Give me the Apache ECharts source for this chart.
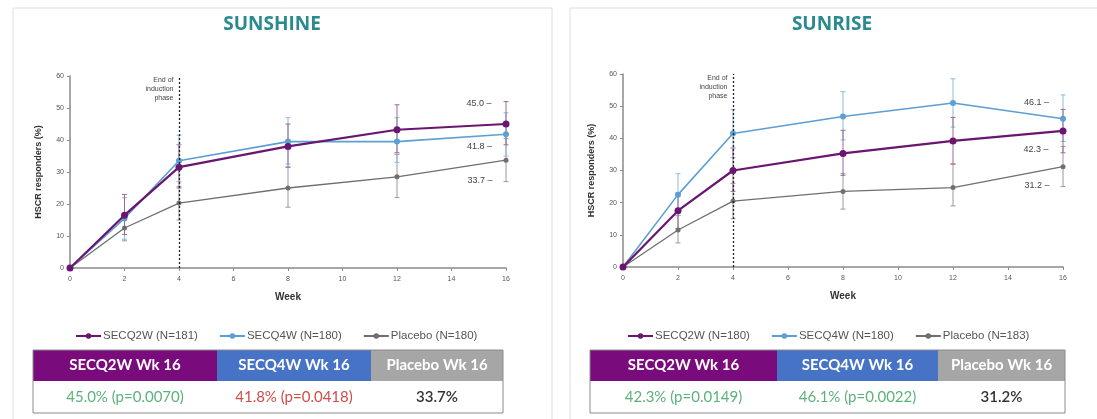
<!DOCTYPE html>
<html><head><meta charset="utf-8">
<script src="https://cdn.jsdelivr.net/npm/echarts@6/dist/echarts.min.js"></script>
<style>html,body{margin:0;padding:0;background:#fff}#c{width:1097px;height:419px}</style>
</head><body><div id="c"></div>
<script>
// ---------- data ----------
const weeks = [0, 2, 4, 8, 12, 16];
const titles = ['SUNSHINE', 'SUNRISE'];
const yTicks = [0, 60, 10];      // min, max, interval
const xTicks = [0, 16, 2];

// SUNSHINE
const shQ2W   = [0, 16.5, 31.5, 38.0, 43.2, 45.0];
const shQ2WLo = [null, 10.5, 25.0, 31.5, 36.0, 38.5];
const shQ2WHi = [null, 23.0, 38.5, 45.0, 51.0, 52.0];
const shQ4W   = [0, 15.5, 33.5, 39.5, 39.5, 41.8];
const shQ4WLo = [null, 9.0, 27.0, 32.5, 33.0, 35.0];
const shQ4WHi = [null, 22.0, 41.5, 47.0, 47.0, 48.5];
const shPbo   = [0, 12.5, 20.3, 25.0, 28.5, 33.7];
const shPboLo = [null, 8.5, 15.0, 19.0, 22.0, 27.0];
const shPboHi = [null, 16.5, 25.5, 31.5, 35.5, 40.5];

// SUNRISE
const srQ2W   = [0, 17.5, 30.0, 35.3, 39.2, 42.3];
const srQ2WLo = [null, 12.0, 23.5, 28.5, 32.0, 35.5];
const srQ2WHi = [null, 23.0, 37.0, 42.5, 46.5, 49.0];
const srQ4W   = [0, 22.5, 41.5, 46.8, 51.0, 46.1];
const srQ4WLo = [null, 16.0, 34.0, 39.5, 43.5, 39.0];
const srQ4WHi = [null, 29.0, 49.0, 54.5, 58.5, 53.5];
const srPbo   = [0, 11.5, 20.5, 23.5, 24.7, 31.2];
const srPboLo = [null, 7.5, 15.0, 18.0, 19.0, 25.0];
const srPboHi = [null, 16.0, 26.0, 29.0, 32.0, 37.5];

const shLegend = ['SECQ2W (N=181)', 'SECQ4W (N=180)', 'Placebo (N=180)'];
const srLegend = ['SECQ2W (N=180)', 'SECQ4W (N=180)', 'Placebo (N=183)'];

const tableHeaders = ['SECQ2W Wk 16', 'SECQ4W Wk 16', 'Placebo Wk 16'];
const shTableValues = ['45.0% (p=0.0070)', '41.8% (p=0.0418)', '33.7%'];
const srTableValues = ['42.3% (p=0.0149)', '46.1% (p=0.0022)', '31.2%'];
const inductionText = 'End of\ninduction\nphase';

// ---------- styles ----------
const colQ2W = '#6a1670', colQ4W = '#5c9fd4', colPbo = '#6f6f6f';
const barQ2W = '#9a6a9c', barQ4W = '#8dbbe0', barPbo = '#9a9a9a';
const hdrColors = ['#7a0b7c', '#4673c6', '#a6a6a6'];
const valColors = [['#5cb27a', '#cf4d4a', '#333333'], ['#5cb27a', '#5cb27a', '#333333']];

const chart = echarts.init(document.getElementById('c'), null, {renderer: 'canvas'});

const grids = [
  {left: 70, top: 76, width: 436, height: 192},
  {left: 623, top: 74, width: 440, height: 193}
];

function xAxis(gi) {
  return {
    type: 'value', gridIndex: gi, min: xTicks[0], max: xTicks[1], interval: xTicks[2],
    name: 'Week', nameLocation: 'middle', nameGap: 24,
    nameTextStyle: {fontFamily: 'Liberation Sans', fontWeight: 'bold', fontSize: 10, color: '#333'},
    axisLine: {lineStyle: {color: '#8a8a8a', width: 1.5}},
    axisTick: {show: true, length: 3, lineStyle: {color: '#8a8a8a'}},
    axisLabel: {fontSize: 7, color: '#555', margin: 8, fontFamily: 'Liberation Sans'},
    splitLine: {show: false}
  };
}
function yAxis(gi) {
  return {
    type: 'value', gridIndex: gi, min: yTicks[0], max: yTicks[1], interval: yTicks[2],
    name: 'HSCR responders (%)', nameLocation: 'middle', nameGap: 27,
    nameTextStyle: {fontFamily: 'Liberation Sans', fontWeight: 'bold', fontSize: 9, color: '#333'},
    axisLine: {show: true, lineStyle: {color: '#8a8a8a', width: 1.5}},
    axisTick: {show: true, length: 3, lineStyle: {color: '#8a8a8a'}},
    axisLabel: {fontSize: 7, color: '#555', margin: 6, fontFamily: 'Liberation Sans'},
    splitLine: {show: false}
  };
}

function lineSeries(id, gi, vals, color, width, symSize, labelOffset, z) {
  const last = vals.length - 1;
  return {
    type: 'line', name: id, xAxisIndex: gi, yAxisIndex: gi, z: z,
    data: vals.map((v, i) => i === last ? {
      value: [weeks[i], v],
      label: {show: true, position: 'left', offset: labelOffset, formatter: v.toFixed(1) + ' –',
        fontSize: 9, color: '#444', fontFamily: 'Liberation Sans'}
    } : [weeks[i], v]),
    symbol: 'circle', symbolSize: symSize, showSymbol: true,
    itemStyle: {color: color}, lineStyle: {color: color, width: width},
    emphasis: {disabled: true}, animation: false
  };
}

function errSeries(gi, lo, hi, color) {
  const data = [];
  weeks.forEach((w, i) => { if (lo[i] != null) data.push([w, lo[i], hi[i]]); });
  return {
    type: 'custom', xAxisIndex: gi, yAxisIndex: gi, z: 1, silent: true,
    data: data, encode: {x: 0, y: [1, 2]},
    renderItem: function (params, api) {
      const p1 = api.coord([api.value(0), api.value(1)]);
      const p2 = api.coord([api.value(0), api.value(2)]);
      const c = 2.5;
      const st = {stroke: color, lineWidth: 1};
      return {type: 'group', children: [
        {type: 'line', shape: {x1: p1[0], y1: p1[1], x2: p2[0], y2: p2[1]}, style: st},
        {type: 'line', shape: {x1: p1[0] - c, y1: p1[1], x2: p1[0] + c, y2: p1[1]}, style: st},
        {type: 'line', shape: {x1: p2[0] - c, y1: p2[1], x2: p2[0] + c, y2: p2[1]}, style: st}
      ]};
    },
    animation: false
  };
}

function markSeries(gi) {
  return {
    type: 'line', xAxisIndex: gi, yAxisIndex: gi, data: [], silent: true,
    markLine: {
      symbol: 'none', silent: true, animation: false,
      lineStyle: {color: '#222', type: [2, 2], width: 1.3},
      label: {show: false},
      data: [{xAxis: 4}]
    },
    markPoint: {
      symbol: 'circle', symbolSize: 1, itemStyle: {color: 'rgba(0,0,0,0)'}, animation: false,
      label: {show: true, formatter: inductionText, position: [-5, 0], align: 'right', verticalAlign: 'top',
        fontSize: 7, lineHeight: 9, color: '#444', fontFamily: 'Liberation Sans'},
      data: [{coord: [4, 60]}]
    }
  };
}

const labelMap = {
  sh_q2w: shLegend[0], sh_q4w: shLegend[1], sh_pbo: shLegend[2],
  sr_q2w: srLegend[0], sr_q4w: srLegend[1], sr_pbo: srLegend[2]
};

function legend(names, left) {
  return {
    data: names, left: left, top: 325, itemWidth: 25, itemHeight: 7, itemGap: 21,
    formatter: n => labelMap[n], selectedMode: false,
    textStyle: {fontSize: 11.5, color: '#555', fontFamily: 'Liberation Sans', padding: [0, 0, 0, -3]}
  };
}

function table(x0, colEdges, y0, values, vc) {
  const els = [];
  const hH = 31, dH = 32;
  for (let i = 0; i < 3; i++) {
    const x = colEdges[i], w = colEdges[i + 1] - colEdges[i];
    els.push({type: 'rect', shape: {x: x, y: y0, width: w, height: hH}, style: {fill: hdrColors[i]}, silent: true});
    els.push({type: 'text', x: x + w / 2, y: y0 + hH / 2, style: {text: tableHeaders[i], fill: '#fff',
      font: 'bold 15px Lato, "Noto Sans", sans-serif', align: 'center', verticalAlign: 'middle'}, silent: true});
    els.push({type: 'text', x: x + w / 2, y: y0 + hH + dH / 2, style: {text: values[i], fill: vc[i],
      font: (i === 2 ? '600 ' : '') + '15px Lato, "Noto Sans", sans-serif', align: 'center', verticalAlign: 'middle'}, silent: true});
  }
  els.push({type: 'rect', shape: {x: colEdges[0], y: y0, width: colEdges[3] - colEdges[0], height: hH + dH},
    style: {fill: 'none', stroke: '#8c8c8c', lineWidth: 1}, silent: true});
  return els;
}

const option = {
  backgroundColor: '#fff',
  animation: false,
  title: [
    {text: titles[0], left: 267, top: 10, textAlign: 'center',
      textStyle: {fontSize: 19, fontWeight: 'bold', color: '#2a8a8e', fontFamily: 'Open Sans'}},
    {text: titles[1], left: 827, top: 10, textAlign: 'center',
      textStyle: {fontSize: 19, fontWeight: 'bold', color: '#2a8a8e', fontFamily: 'Open Sans'}}
  ],
  grid: grids,
  xAxis: [xAxis(0), xAxis(1)],
  yAxis: [yAxis(0), yAxis(1)],
  legend: [
    legend(['sh_q2w', 'sh_q4w', 'sh_pbo'], 70),
    legend(['sr_q2w', 'sr_q4w', 'sr_pbo'], 622)
  ],
  series: [
    markSeries(0), markSeries(1),
    errSeries(0, shPboLo, shPboHi, barPbo),
    errSeries(0, shQ4WLo, shQ4WHi, barQ4W),
    errSeries(0, shQ2WLo, shQ2WHi, barQ2W),
    errSeries(1, srPboLo, srPboHi, barPbo),
    errSeries(1, srQ4WLo, srQ4WHi, barQ4W),
    errSeries(1, srQ2WLo, srQ2WHi, barQ2W),
    lineSeries('sh_pbo', 0, shPbo, colPbo, 1.3, 5, [-6, 20], 3),
    lineSeries('sh_q4w', 0, shQ4W, colQ4W, 1.6, 6, [-6, 12], 4),
    lineSeries('sh_q2w', 0, shQ2W, colQ2W, 2.2, 7, [-6, -20], 5),
    lineSeries('sr_pbo', 1, srPbo, colPbo, 1.3, 5, [-6, 19], 3),
    lineSeries('sr_q4w', 1, srQ4W, colQ4W, 1.6, 6, [-6, -16], 4),
    lineSeries('sr_q2w', 1, srQ2W, colQ2W, 2.2, 7, [-6, 19], 5)
  ],
  graphic: [
    {type: 'rect', shape: {x: 13, y: 8, width: 539, height: 420}, style: {fill: 'none', stroke: '#dedede', lineWidth: 1}, silent: true, z: -1},
    {type: 'rect', shape: {x: 570, y: 8, width: 540, height: 420}, style: {fill: 'none', stroke: '#dedede', lineWidth: 1}, silent: true, z: -1}
  ].concat(table(33, [33, 217, 371, 503], 350, shTableValues, valColors[0]))
   .concat(table(590, [590, 777, 938, 1065], 350, srTableValues, valColors[1]))
};
chart.setOption(option);
</script>
</body></html>
